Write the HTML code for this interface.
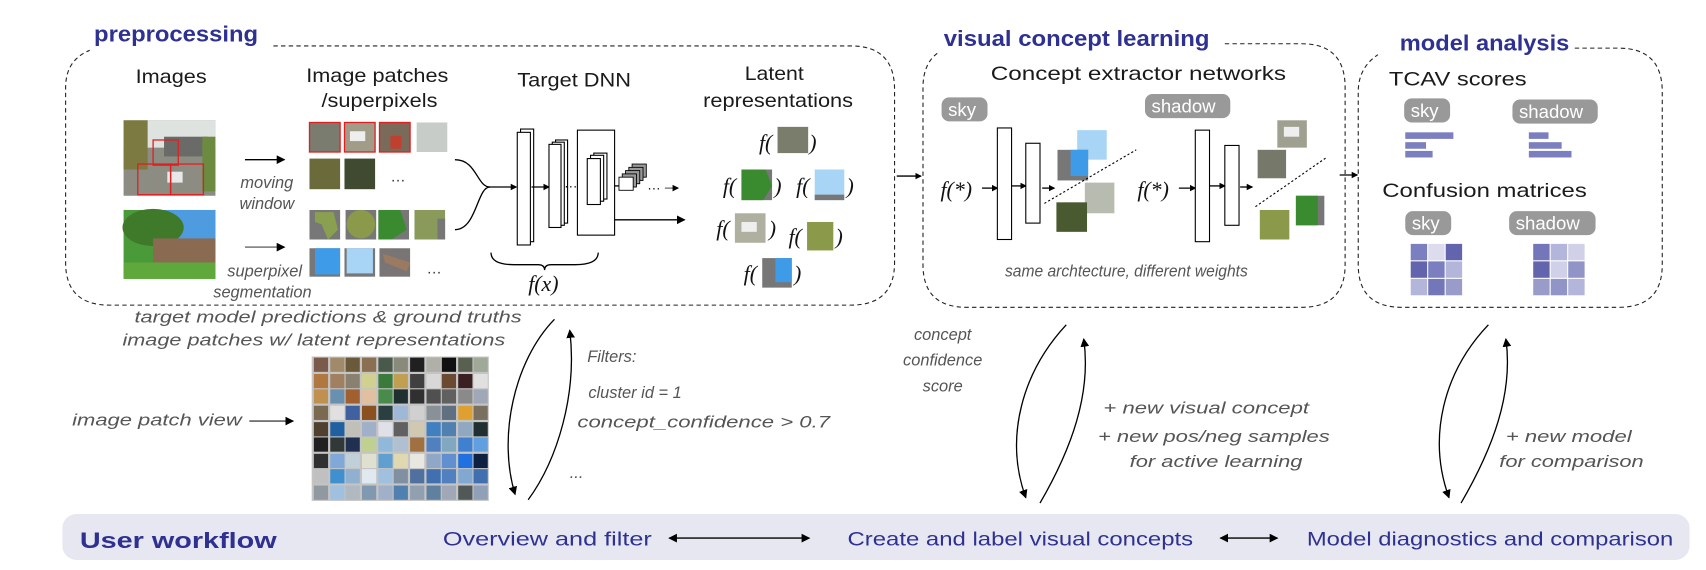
<!DOCTYPE html>
<html><head><meta charset="utf-8"><style>
html,body{margin:0;padding:0;background:#fff;}
svg{display:block;}
text{font-family:"Liberation Sans",sans-serif;}
.t{fill:#1a1a1a;font-size:18px;}
.it{fill:#555;font-style:italic;font-size:15px;}
.tt{fill:#2e3192;font-weight:bold;font-size:20px;}
.wf{fill:#2e3192;font-size:18px;}
.pill{fill:#999;}
.pt{fill:#fff;font-size:17px;}
.sf{font-family:"Liberation Serif",serif;font-style:italic;font-size:20px;fill:#111;}
.ln{fill:none;stroke:#000;stroke-width:1.2;}
.box{fill:none;stroke:#222;stroke-width:1;stroke-dasharray:4 3;}
</style></head><body>
<svg width="1706" height="570" viewBox="0 0 1560 521.2" preserveAspectRatio="none" xmlns="http://www.w3.org/2000/svg">
<defs>
<marker id="ah" markerWidth="8" markerHeight="8" refX="7" refY="4" orient="auto" markerUnits="userSpaceOnUse"><path d="M0,0 L8,4 L0,8 z" fill="#000"/></marker>
<marker id="ahs" markerWidth="6" markerHeight="6" refX="5" refY="3" orient="auto" markerUnits="userSpaceOnUse"><path d="M0,0 L6,3 L0,6 z" fill="#000"/></marker>
<marker id="ahb" markerWidth="8" markerHeight="8" refX="1" refY="4" orient="auto" markerUnits="userSpaceOnUse"><path d="M8,0 L0,4 L8,8 z" fill="#000"/></marker>
</defs>

<!-- dashed boxes -->
<path class="box" d="M250,42 L778,42 Q818,42 818,82 L818,240 Q818,279 778,279 L100,279 Q60,279 60,240 L60,80 Q60,55 82,46"/>
<path class="box" d="M1120,40 L1190,40 Q1230,40 1230,80 L1230,242 Q1230,281 1190,281 L884,281 Q844,281 844,242 L844,80 Q844,58 858,48"/>
<path class="box" d="M1440,44 L1480,44 Q1520,44 1520,84 L1520,242 Q1520,281 1480,281 L1282,281 Q1242,281 1242,242 L1242,84 Q1242,62 1260,50"/>

<text class="tt" x="86" y="38" textLength="150" lengthAdjust="spacingAndGlyphs">preprocessing</text>
<text class="tt" x="863" y="42" textLength="243" lengthAdjust="spacingAndGlyphs">visual concept learning</text>
<text class="tt" x="1280" y="46" textLength="155" lengthAdjust="spacingAndGlyphs">model analysis</text>

<!-- preprocessing content -->
<text class="t" x="124" y="76" textLength="65" lengthAdjust="spacingAndGlyphs">Images</text>
<text class="t" x="280" y="75" textLength="130" lengthAdjust="spacingAndGlyphs">Image patches</text>
<text class="t" x="294" y="98" textLength="106" lengthAdjust="spacingAndGlyphs">/superpixels</text>
<text class="t" x="473" y="79" textLength="104" lengthAdjust="spacingAndGlyphs">Target DNN</text>
<text class="t" x="681" y="73" textLength="54" lengthAdjust="spacingAndGlyphs">Latent</text>
<text class="t" x="643" y="98" textLength="137" lengthAdjust="spacingAndGlyphs">representations</text>

<!-- image 1 street -->
<rect x="113" y="110" width="84" height="69" fill="#8c8c82"/>
<rect x="113" y="110" width="84" height="25" fill="#dfe3e0"/>
<rect x="113" y="110" width="22" height="45" fill="#7c7a40"/>
<rect x="150" y="125" width="40" height="18" fill="#6a6a68"/>
<rect x="185" y="125" width="12" height="50" fill="#6c8a40"/>
<rect x="153" y="157" width="14" height="10" fill="#e8e8e8"/>
<rect x="140" y="128" width="23" height="23" fill="none" stroke="#e02020" stroke-width="1.2"/>
<rect x="126" y="150" width="30" height="28" fill="none" stroke="#e02020" stroke-width="1.2"/>
<rect x="156" y="150" width="30" height="28" fill="none" stroke="#e02020" stroke-width="1.2"/>
<!-- image 2 garden -->
<rect x="113" y="192" width="84" height="63" fill="#4a9a3a"/>
<rect x="150" y="192" width="47" height="30" fill="#4f9be0"/>
<ellipse cx="140" cy="208" rx="28" ry="17" fill="#3f7a2a"/>
<rect x="140" y="218" width="57" height="22" fill="#8a6a50"/>
<rect x="113" y="240" width="84" height="15" fill="#5fa83c"/>

<line class="ln" x1="224" y1="146" x2="260" y2="146" marker-end="url(#ah)"/>
<line x1="224" y1="226" x2="260" y2="226" stroke="#888" stroke-width="1.6" marker-end="url(#ah)"/>
<text class="it" x="244" y="172" text-anchor="middle" font-size="15">moving</text>
<text class="it" x="244" y="191" text-anchor="middle" font-size="15">window</text>
<text class="it" x="242" y="253" text-anchor="middle" font-size="15">superpixel</text>
<text class="it" x="240" y="272" text-anchor="middle" font-size="15">segmentation</text>

<!-- patches -->
<rect x="283" y="112" width="28" height="27" fill="#7a7c70" stroke="#e02020" stroke-width="1.2"/>
<rect x="315" y="112" width="28" height="27" fill="#a09c88" stroke="#e02020" stroke-width="1.2"/>
<rect x="320" y="120" width="14" height="9" fill="#eee"/>
<rect x="347" y="112" width="28" height="27" fill="#7a6a5a" stroke="#e02020" stroke-width="1.2"/>
<rect x="357" y="124" width="10" height="12" fill="#c04030"/>
<rect x="381" y="112" width="28" height="27" fill="#c8ccc8"/>
<rect x="283" y="145" width="28" height="28" fill="#6a6a3a"/>
<rect x="315" y="145" width="28" height="28" fill="#3f4a30"/>
<text x="357" y="166" font-size="14" fill="#333">…</text>
<rect x="283" y="192" width="28" height="27" fill="#777"/><path d="M288,194 L305,194 L309,210 L300,219 L294,205 L288,203z" fill="#8aa050"/>
<rect x="316" y="192" width="28" height="27" fill="#777"/><ellipse cx="330" cy="205" rx="13" ry="13" fill="#8a9a4a"/>
<rect x="346" y="192" width="28" height="27" fill="#777"/><path d="M346,192 L366,192 L372,210 L358,219 L346,219z" fill="#3a8a30"/>
<rect x="379" y="192" width="28" height="27" fill="#8a9a5a"/><rect x="400" y="200" width="7" height="19" fill="#777"/>
<rect x="283" y="227" width="28" height="26" fill="#777"/><rect x="288" y="227" width="23" height="24" fill="#3d9be8"/>
<rect x="315" y="227" width="28" height="26" fill="#777"/><rect x="317" y="227" width="24" height="23" fill="#a8d4f5"/>
<rect x="347" y="227" width="28" height="26" fill="#7a7575"/><path d="M350,232 L375,240 L372,248 L352,240z" fill="#9a7a60"/>
<text x="390" y="250" font-size="14" fill="#333">…</text>

<!-- DNN -->
<path class="ln" d="M416,146 C436,146 436,171 448,171" />
<path class="ln" d="M416,210 C436,210 436,171 448,171" />
<line class="ln" x1="446" y1="171" x2="472" y2="171" marker-end="url(#ahs)"/>
<rect x="476" y="118" width="12" height="103" fill="#fff" stroke="#000"/>
<rect x="473" y="121" width="12" height="103" fill="#fff" stroke="#000"/>
<line class="ln" x1="486" y1="171" x2="502" y2="171" marker-end="url(#ahs)"/>
<rect x="508" y="128" width="11" height="76" fill="#fff" stroke="#000"/>
<rect x="505" y="130" width="11" height="76" fill="#fff" stroke="#000"/>
<rect x="502" y="132" width="11" height="76" fill="#fff" stroke="#000"/>
<text x="516" y="174" font-size="12">···</text>
<rect x="528" y="119" width="34" height="96" fill="#fff" stroke="#000"/>
<rect x="543" y="140" width="12" height="42" fill="#fff" stroke="#000"/>
<rect x="540" y="142" width="12" height="42" fill="#fff" stroke="#000"/>
<rect x="537" y="145" width="12" height="42" fill="#fff" stroke="#000"/>
<line class="ln" x1="562" y1="170" x2="568" y2="170"/>
<rect x="578" y="150" width="13" height="12" fill="#999" stroke="#000" stroke-width=".8"/>
<rect x="575" y="153" width="13" height="12" fill="#999" stroke="#000" stroke-width=".8"/>
<rect x="572" y="156" width="13" height="12" fill="#999" stroke="#000" stroke-width=".8"/>
<rect x="569" y="159" width="13" height="12" fill="#999" stroke="#000" stroke-width=".8"/>
<rect x="566" y="162" width="13" height="12" fill="#fff" stroke="#000" stroke-width=".8"/>
<text x="592" y="176" font-size="12">···</text>
<line x1="608" y1="172" x2="620" y2="172" stroke="#555" marker-end="url(#ahs)"/>
<line class="ln" x1="562" y1="201" x2="626" y2="201" marker-end="url(#ah)"/>
<path class="ln" d="M449,231 Q449,242 470,242 L492,242 Q498,242 498,247 Q498,242 504,242 L526,242 Q547,242 547,231"/>
<text class="sf" x="483" y="266">f(x)</text>

<!-- latent -->
<text class="sf" x="694" y="137">f(</text><rect x="711" y="116" width="28" height="24" fill="#7a7c6c"/><text class="sf" x="740" y="137">)</text>
<text class="sf" x="661" y="177">f(</text><rect x="678" y="155" width="28" height="28" fill="#777"/><path d="M678,155 L700,155 L706,170 L698,183 L678,183z" fill="#3a8a30"/><text class="sf" x="708" y="177">)</text>
<text class="sf" x="728" y="177">f(</text><rect x="745" y="155" width="27" height="28" fill="#a8d4f5"/><rect x="745" y="178" width="27" height="5" fill="#777"/><text class="sf" x="774" y="177">)</text>
<text class="sf" x="655" y="216">f(</text><rect x="672" y="195" width="28" height="27" fill="#b0b0a0"/><rect x="678" y="203" width="14" height="9" fill="#eee"/><text class="sf" x="703" y="216">)</text>
<text class="sf" x="721" y="223">f(</text><rect x="738" y="203" width="24" height="26" fill="#8a9a4a"/><text class="sf" x="764" y="223">)</text>
<text class="sf" x="680" y="257">f(</text><rect x="697" y="236" width="27" height="27" fill="#777"/><rect x="709" y="236" width="15" height="22" fill="#3d9be8"/><text class="sf" x="726" y="257">)</text>

<line class="ln" x1="820" y1="161" x2="842" y2="161" marker-end="url(#ahs)"/>
<line class="ln" x1="1225" y1="160" x2="1241" y2="160" marker-end="url(#ahs)"/>

<!-- visual concept learning -->
<text class="t" x="906" y="73" font-size="20" textLength="270" lengthAdjust="spacingAndGlyphs">Concept extractor networks</text>
<rect class="pill" x="861" y="89" width="42" height="22" rx="7"/><text class="pt" x="867" y="106">sky</text>
<rect class="pill" x="1047" y="86" width="78" height="22" rx="7"/><text class="pt" x="1053" y="103">shadow</text>
<text class="sf" x="860" y="180" font-size="19">f(*)</text>
<line class="ln" x1="898" y1="172" x2="912" y2="172" marker-end="url(#ahs)"/>
<rect x="912" y="117" width="13" height="102" fill="#fff" stroke="#000"/>
<line class="ln" x1="925" y1="170" x2="938" y2="170" marker-end="url(#ahs)"/>
<rect x="938" y="131" width="13" height="73" fill="#fff" stroke="#000"/>
<line class="ln" x1="953" y1="172" x2="964" y2="172" marker-end="url(#ahs)"/>
<rect x="985" y="119" width="27" height="27" fill="#a8d4f5"/>
<rect x="967" y="137" width="28" height="28" fill="#777"/><rect x="979" y="137" width="16" height="24" fill="#3d9be8"/>
<rect x="992" y="167" width="27" height="28" fill="#b8bcb0"/>
<rect x="966" y="185" width="28" height="27" fill="#4a5a30"/>
<line x1="955" y1="186" x2="1039" y2="137" stroke="#000" stroke-dasharray="2 2"/>

<text class="sf" x="1040" y="180" font-size="19">f(*)</text>
<line class="ln" x1="1078" y1="172" x2="1093" y2="172" marker-end="url(#ahs)"/>
<rect x="1093" y="119" width="13" height="102" fill="#fff" stroke="#000"/>
<line class="ln" x1="1106" y1="170" x2="1120" y2="170" marker-end="url(#ahs)"/>
<rect x="1120" y="133" width="13" height="73" fill="#fff" stroke="#000"/>
<line class="ln" x1="1134" y1="171" x2="1145" y2="171" marker-end="url(#ahs)"/>
<rect x="1168" y="110" width="27" height="25" fill="#a0a090"/><rect x="1174" y="116" width="14" height="9" fill="#eee"/>
<rect x="1150" y="137" width="26" height="26" fill="#76786a"/>
<rect x="1185" y="179" width="26" height="27" fill="#777"/><rect x="1185" y="179" width="20" height="27" fill="#3a8a30"/>
<rect x="1152" y="192" width="27" height="27" fill="#8a9a4a"/>
<line x1="1148" y1="189" x2="1213" y2="144" stroke="#000" stroke-dasharray="2 2"/>
<text class="it" x="1030" y="253" text-anchor="middle" font-size="13" textLength="222" lengthAdjust="spacingAndGlyphs">same archtecture, different weights</text>

<!-- model analysis -->
<text class="t" x="1270" y="78" font-size="20" textLength="126" lengthAdjust="spacingAndGlyphs">TCAV scores</text>
<rect class="pill" x="1284" y="90" width="42" height="22" rx="7"/><text class="pt" x="1290" y="107">sky</text>
<rect class="pill" x="1383" y="91" width="78" height="22" rx="7"/><text class="pt" x="1389" y="108">shadow</text>
<g fill="#7b7fbf">
<rect x="1285" y="121" width="44" height="6"/><rect x="1285" y="130" width="19" height="6"/><rect x="1285" y="138" width="25" height="6"/>
<rect x="1398" y="121" width="18" height="6"/><rect x="1398" y="130" width="30" height="6"/><rect x="1398" y="138" width="39" height="6"/>
</g>
<text class="t" x="1264" y="180" font-size="20" textLength="187" lengthAdjust="spacingAndGlyphs">Confusion matrices</text>
<rect class="pill" x="1285" y="193" width="42" height="22" rx="7"/><text class="pt" x="1291" y="210">sky</text>
<rect class="pill" x="1380" y="193" width="79" height="22" rx="7"/><text class="pt" x="1386" y="210">shadow</text>
<g>
<rect x="1290" y="223" width="15" height="15" fill="#7b7fbf"/><rect x="1306" y="223" width="15" height="15" fill="#dcdcee"/><rect x="1322" y="223" width="15" height="15" fill="#6265ad"/>
<rect x="1290" y="239" width="15" height="15" fill="#6265ad"/><rect x="1306" y="239" width="15" height="15" fill="#7b7fbf"/><rect x="1322" y="239" width="15" height="15" fill="#b3b5da"/>
<rect x="1290" y="255" width="15" height="15" fill="#b3b5da"/><rect x="1306" y="255" width="15" height="15" fill="#7376b8"/><rect x="1322" y="255" width="15" height="15" fill="#999cc9"/>
<rect x="1402" y="223" width="15" height="15" fill="#7376b8"/><rect x="1418" y="223" width="15" height="15" fill="#b3b5da"/><rect x="1434" y="223" width="15" height="15" fill="#d0d1e8"/>
<rect x="1402" y="239" width="15" height="15" fill="#6265ad"/><rect x="1418" y="239" width="15" height="15" fill="#d0d1e8"/><rect x="1434" y="239" width="15" height="15" fill="#9194c6"/>
<rect x="1402" y="255" width="15" height="15" fill="#999cc9"/><rect x="1418" y="255" width="15" height="15" fill="#9194c6"/><rect x="1434" y="255" width="15" height="15" fill="#b3b5da"/>
</g>

<!-- lower left -->
<text class="it" x="123" y="295" font-size="17" textLength="354" lengthAdjust="spacingAndGlyphs">target model predictions &amp; ground truths</text>
<text class="it" x="112" y="316" font-size="17" textLength="350" lengthAdjust="spacingAndGlyphs">image patches w/ latent representations</text>
<text class="it" x="66" y="389" font-size="17" textLength="155" lengthAdjust="spacingAndGlyphs">image patch view</text>
<line x1="228" y1="385" x2="268" y2="385" stroke="#444" stroke-width="1.2" marker-end="url(#ah)"/>

<!-- mosaic -->
<rect x="285" y="326" width="162" height="132" fill="#c4c4c4"/>
<g>
<rect x="287" y="327" width="13" height="13" fill="#7a5a4a"/><rect x="302" y="327" width="13" height="13" fill="#a08a6a"/><rect x="316" y="327" width="13" height="13" fill="#6a5a3a"/><rect x="331" y="327" width="13" height="13" fill="#8a7050"/><rect x="346" y="327" width="13" height="13" fill="#4a5a4a"/><rect x="360" y="327" width="13" height="13" fill="#8a8a7a"/><rect x="375" y="327" width="13" height="13" fill="#202020"/><rect x="390" y="327" width="13" height="13" fill="#b0b0a8"/><rect x="404" y="327" width="13" height="13" fill="#101010"/><rect x="419" y="327" width="13" height="13" fill="#5a6050"/><rect x="433" y="327" width="13" height="13" fill="#a0a898"/>
<rect x="287" y="342" width="13" height="13" fill="#b07840"/><rect x="302" y="342" width="13" height="13" fill="#a08060"/><rect x="316" y="342" width="13" height="13" fill="#8a8070"/><rect x="331" y="342" width="13" height="13" fill="#d0d090"/><rect x="346" y="342" width="13" height="13" fill="#3a7a3a"/><rect x="360" y="342" width="13" height="13" fill="#c0a050"/><rect x="375" y="342" width="13" height="13" fill="#404040"/><rect x="390" y="342" width="13" height="13" fill="#d8d8d8"/><rect x="404" y="342" width="13" height="13" fill="#6a4a30"/><rect x="419" y="342" width="13" height="13" fill="#3a2020"/><rect x="433" y="342" width="13" height="13" fill="#e0e0e0"/>
<rect x="287" y="356" width="13" height="13" fill="#c09050"/><rect x="302" y="356" width="13" height="13" fill="#6a90b0"/><rect x="316" y="356" width="13" height="13" fill="#a06030"/><rect x="331" y="356" width="13" height="13" fill="#e0c0a0"/><rect x="346" y="356" width="13" height="13" fill="#4a8a4a"/><rect x="360" y="356" width="13" height="13" fill="#203030"/><rect x="375" y="356" width="13" height="13" fill="#303030"/><rect x="390" y="356" width="13" height="13" fill="#505050"/><rect x="404" y="356" width="13" height="13" fill="#606060"/><rect x="419" y="356" width="13" height="13" fill="#8a8a8a"/><rect x="433" y="356" width="13" height="13" fill="#a0a8b8"/>
<rect x="287" y="371" width="13" height="13" fill="#7a6a50"/><rect x="302" y="371" width="13" height="13" fill="#e0e0e0"/><rect x="316" y="371" width="13" height="13" fill="#4060a0"/><rect x="331" y="371" width="13" height="13" fill="#8a5020"/><rect x="346" y="371" width="13" height="13" fill="#2a4040"/><rect x="360" y="371" width="13" height="13" fill="#a0b8d8"/><rect x="375" y="371" width="13" height="13" fill="#d0d0d0"/><rect x="390" y="371" width="13" height="13" fill="#8a9098"/><rect x="404" y="371" width="13" height="13" fill="#607080"/><rect x="419" y="371" width="13" height="13" fill="#e0a030"/><rect x="433" y="371" width="13" height="13" fill="#7a7060"/>
<rect x="287" y="386" width="13" height="13" fill="#504030"/><rect x="302" y="386" width="13" height="13" fill="#2060a0"/><rect x="316" y="386" width="13" height="13" fill="#c0c0b8"/><rect x="331" y="386" width="13" height="13" fill="#a0b0c8"/><rect x="346" y="386" width="13" height="13" fill="#e0e0e8"/><rect x="360" y="386" width="13" height="13" fill="#606060"/><rect x="375" y="386" width="13" height="13" fill="#d0c8b0"/><rect x="390" y="386" width="13" height="13" fill="#4080c0"/><rect x="404" y="386" width="13" height="13" fill="#5080b0"/><rect x="419" y="386" width="13" height="13" fill="#90a8c0"/><rect x="433" y="386" width="13" height="13" fill="#203030"/>
<rect x="287" y="400" width="13" height="13" fill="#202020"/><rect x="302" y="400" width="13" height="13" fill="#303838"/><rect x="316" y="400" width="13" height="13" fill="#203050"/><rect x="331" y="400" width="13" height="13" fill="#c0d090"/><rect x="346" y="400" width="13" height="13" fill="#90b8d8"/><rect x="360" y="400" width="13" height="13" fill="#b0c0d0"/><rect x="375" y="400" width="13" height="13" fill="#a07040"/><rect x="390" y="400" width="13" height="13" fill="#5080c0"/><rect x="404" y="400" width="13" height="13" fill="#80a8c0"/><rect x="419" y="400" width="13" height="13" fill="#4080d0"/><rect x="433" y="400" width="13" height="13" fill="#60a0e0"/>
<rect x="287" y="415" width="13" height="13" fill="#303030"/><rect x="302" y="415" width="13" height="13" fill="#80a8d8"/><rect x="316" y="415" width="13" height="13" fill="#c0d0d8"/><rect x="331" y="415" width="13" height="13" fill="#e0e0d0"/><rect x="346" y="415" width="13" height="13" fill="#60a0d0"/><rect x="360" y="415" width="13" height="13" fill="#e0d8b0"/><rect x="375" y="415" width="13" height="13" fill="#e8e8e0"/><rect x="390" y="415" width="13" height="13" fill="#90a8c8"/><rect x="404" y="415" width="13" height="13" fill="#6090d0"/><rect x="419" y="415" width="13" height="13" fill="#2070e0"/><rect x="433" y="415" width="13" height="13" fill="#102040"/>
<rect x="287" y="429" width="13" height="13" fill="#c0c0c0"/><rect x="302" y="429" width="13" height="13" fill="#4090d0"/><rect x="316" y="429" width="13" height="13" fill="#90b0d0"/><rect x="331" y="429" width="13" height="13" fill="#e0e8f0"/><rect x="346" y="429" width="13" height="13" fill="#a0c0e0"/><rect x="360" y="429" width="13" height="13" fill="#8090a0"/><rect x="375" y="429" width="13" height="13" fill="#5070a0"/><rect x="390" y="429" width="13" height="13" fill="#4070b0"/><rect x="404" y="429" width="13" height="13" fill="#5080c0"/><rect x="419" y="429" width="13" height="13" fill="#80a8d0"/><rect x="433" y="429" width="13" height="13" fill="#4070b0"/>
<rect x="287" y="444" width="13" height="13" fill="#9098a0"/><rect x="302" y="444" width="13" height="13" fill="#a0c0e0"/><rect x="316" y="444" width="13" height="13" fill="#b0b8c0"/><rect x="331" y="444" width="13" height="13" fill="#8098b0"/><rect x="346" y="444" width="13" height="13" fill="#a0b0c8"/><rect x="360" y="444" width="13" height="13" fill="#5080b0"/><rect x="375" y="444" width="13" height="13" fill="#90a0b0"/><rect x="390" y="444" width="13" height="13" fill="#6080a0"/><rect x="404" y="444" width="13" height="13" fill="#a0a8b8"/><rect x="419" y="444" width="13" height="13" fill="#505858"/><rect x="433" y="444" width="13" height="13" fill="#90a0b8"/>
</g>

<!-- filter curves -->
<path class="ln" d="M507,292 C470,330 455,400 471,452" marker-end="url(#ah)"/>
<path class="ln" d="M483,457 C510,420 528,360 521,302" marker-end="url(#ah)"/>
<text class="it" x="537" y="331" font-size="17">Filters:</text>
<text class="it" x="538" y="364" font-size="17">cluster id = 1</text>
<text class="it" x="528" y="391" font-size="17" textLength="231" lengthAdjust="spacingAndGlyphs">concept_confidence &gt; 0.7</text>
<text class="it" x="521" y="437" font-size="14">...</text>

<!-- concept curves -->
<text class="it" x="862" y="311" text-anchor="middle" font-size="17">concept</text>
<text class="it" x="862" y="334" text-anchor="middle" font-size="17">confidence</text>
<text class="it" x="862" y="358" text-anchor="middle" font-size="17">score</text>
<path class="ln" d="M975,297 C935,340 918,400 938,455" marker-end="url(#ah)"/>
<path class="ln" d="M951,460 C980,410 998,360 991,310" marker-end="url(#ah)"/>
<text class="it" x="1009" y="378" font-size="17" textLength="188" lengthAdjust="spacingAndGlyphs">+ new visual concept</text>
<text class="it" x="1004" y="404" font-size="17" textLength="212" lengthAdjust="spacingAndGlyphs">+ new pos/neg samples</text>
<text class="it" x="1033" y="427" font-size="17" textLength="158" lengthAdjust="spacingAndGlyphs">for active learning</text>

<path class="ln" d="M1361,297 C1320,340 1305,400 1325,455" marker-end="url(#ah)"/>
<path class="ln" d="M1336,460 C1365,410 1384,360 1377,310" marker-end="url(#ah)"/>
<text class="it" x="1377" y="404" font-size="17" textLength="115" lengthAdjust="spacingAndGlyphs">+ new model</text>
<text class="it" x="1371" y="427" font-size="17" textLength="132" lengthAdjust="spacingAndGlyphs">for comparison</text>

<!-- workflow bar -->
<rect x="57" y="470" width="1488" height="42" rx="13" fill="#e7e7f2"/>
<text class="tt" x="73" y="501" font-size="22" textLength="180" lengthAdjust="spacingAndGlyphs">User workflow</text>
<text class="wf" x="405" y="499" textLength="191" lengthAdjust="spacingAndGlyphs">Overview and filter</text>
<line class="ln" x1="612" y1="492" x2="740" y2="492" marker-start="url(#ahb)" marker-end="url(#ah)"/>
<text class="wf" x="775" y="499" textLength="316" lengthAdjust="spacingAndGlyphs">Create and label visual concepts</text>
<line class="ln" x1="1116" y1="492" x2="1168" y2="492" marker-start="url(#ahb)" marker-end="url(#ah)"/>
<text class="wf" x="1195" y="499" textLength="335" lengthAdjust="spacingAndGlyphs">Model diagnostics and comparison</text>
</svg>
</body></html>
